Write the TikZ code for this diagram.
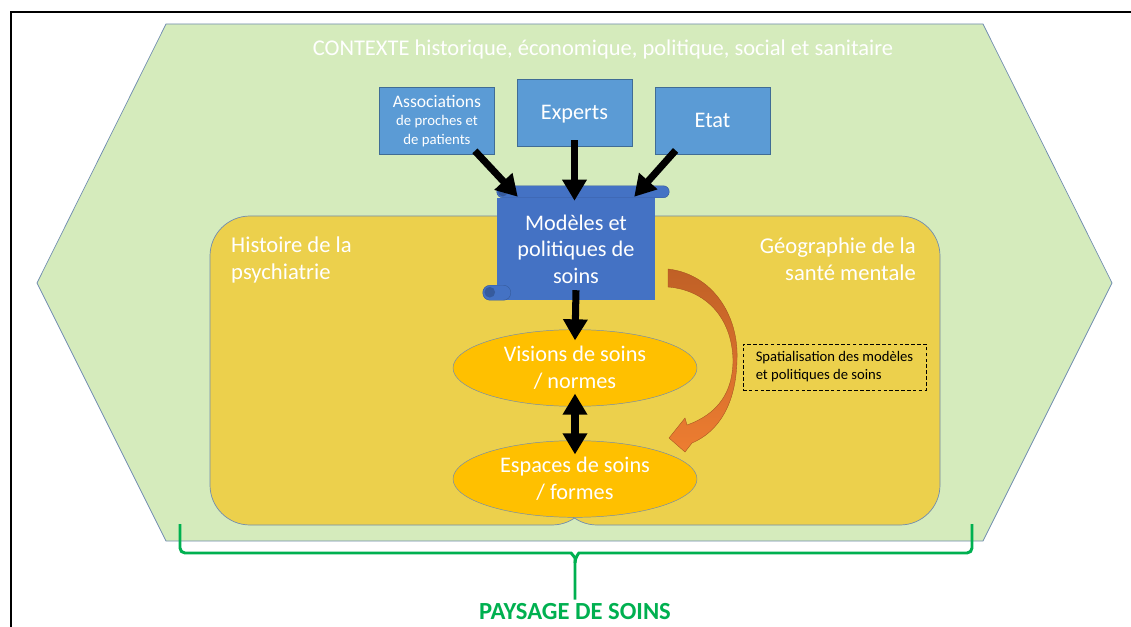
\documentclass[tikz,border=0pt]{standalone}
\usepackage{fontspec}
\setmainfont{Carlito}
\usetikzlibrary{shapes.geometric,arrows.meta,calc}

\definecolor{vertclair}{RGB}{213,235,188}
\definecolor{jaune}{RGB}{236,208,76}
\definecolor{bleu}{RGB}{91,155,213}
\definecolor{bleufonce}{RGB}{68,114,196}
\definecolor{orangef}{RGB}{255,192,0}
\definecolor{contour}{RGB}{112,140,176}
\definecolor{vertpaysage}{RGB}{0,176,80}
\definecolor{orangeh}{RGB}{192,96,38}
\definecolor{orangeb}{RGB}{237,125,49}

\tikzset{
  tete/.tip={Triangle[length=18pt,width=20pt]},
  fleche/.style={line width=6pt,-tete},
  acteur/.style={draw=bleu!70!black,fill=bleu,text=white,minimum width=34.6mm,
    minimum height=20.2mm,inner sep=0pt,align=center,font=\fontsize{19}{23}\selectfont},
  vision/.style={ellipse,draw=contour,fill=orangef,text=white,minimum width=73.2mm,
    minimum height=23mm,inner sep=0pt,align=center,font=\fontsize{19}{23}\selectfont},
  titre/.style={text=white,inner sep=0pt,font=\fontsize{19.3}{23}\selectfont},
  accolade/.style={vertpaysage,line width=2.5pt,rounded corners=1.5mm}
}

\begin{document}
\begin{tikzpicture}[x=0.3mm,y=-0.3mm]
\useasboundingbox (0,0) rectangle (1131,627);

\draw[line width=1.7pt] (11,640) -- (11,12) -- (1140,12);

% contexte
\draw[contour,fill=vertclair,line width=0.6pt]
  (37,283) -- (166,24) -- (983,24) -- (1112,283) -- (983,541) -- (166,541) -- cycle;
\node[text=white,font=\fontsize{19.2}{21}\selectfont] (contexte) at (603,50)
  {CONTEXTE historique, économique, politique, social et sanitaire};

% histoire et geographie
\foreach \a/\b in {210/592,557/940}
  \draw[contour,fill=jaune,line width=0.6pt,rounded corners=12mm] (\a,216) rectangle (\b,525);
\fill[jaune] (555.5,218) rectangle (593.5,514);
\node[titre,anchor=north west,align=left] (histoire) at (231,237) {Histoire de la\\psychiatrie};
\node[titre,anchor=north east,align=right] (geo) at (916,238) {Géographie de la\\santé mentale};

% acteurs
\node[acteur,font=\fontsize{12.6}{15.5}\selectfont] (assoc) at (437,121)
  {{\fontsize{15}{15.5}\selectfont Associations}\\de proches et\\de patients};
\node[acteur,text depth=0pt] (experts) at (574.5,112.5) {Experts};
\node[acteur] (etat) at (712.5,120.5) {Etat};

% parchemin
\node[fill=bleufonce,text=white,minimum width=47.4mm,minimum height=30.6mm,inner sep=0pt,
  align=center,font=\fontsize{19}{22.5}\selectfont] (modeles) at (576,249)
  {Modèles et\\politiques de\\soins};
\draw[fill=bleufonce,draw=bleufonce!80!black,line width=0.4pt,rounded corners=1.8mm]
  ($(modeles.north west)+(0,-12)$) rectangle ($(modeles.north east)+(14,0)$);
\fill[bleufonce!80!black] ($(modeles.north west)+(6,-6)$) circle (1.4mm);
\draw[fill=bleufonce,draw=bleufonce!80!black,line width=0.4pt,rounded corners=2.2mm]
  ($(modeles.south west)+(-14,-15)$) rectangle ($(modeles.south west)+(14,0)$);
\fill[bleufonce!80!black] ($(modeles.south west)+(-7,-8)$) circle (1.6mm);

% visions et espaces
\node[vision] (visions) at (575,368) {Visions de soins\\/ normes};
\node[vision] (espaces) at (575,479) {Espaces de soins\\/ formes};

\draw[fleche] ($(assoc.south east)+(-20,-4)$) -- ($(modeles.north west)+(21,-1)$);
\draw[fleche] ($(experts.south)+(0,-6)$) -- ($(experts.south |- modeles.north)+(0,3)$);
\draw[fleche] ($(etat.south west)+(21,-4)$) -- ($(modeles.north east)+(-21,-1)$);
\draw[fleche] ($(modeles.south)+(0,-10)$) -- ($(visions.north)+(0,11)$);
\draw[fleche,tete-tete] ($(visions.south)+(0,-13)$) -- ($(espaces.north)+(0,14)$);

% spatialisation
\shade[top color=orangeh,bottom color=orangeb,draw=orangeh!85!black,line width=0.3pt]
  (668,269) .. controls (712,274) and (739,315) .. (737,360)
  .. controls (736,405) and (718,432) .. (692,443)
  -- (685,452) -- (669,438) -- (685,418) -- (687,425)
  .. controls (718,414) and (733,392) .. (733,360)
  .. controls (732,318) and (706,290) .. (668,287) -- cycle;
\node[draw,dash pattern=on 3pt off 2pt,line width=0.8pt,minimum width=54.9mm,minimum height=13.8mm,
  align=left,inner sep=0pt,font=\fontsize{12.5}{15.4}\selectfont] (spatial) at (834.5,367)
  {Spatialisation des modèles\\et politiques de soins};

% paysage
\node[text=vertpaysage,font=\bfseries\fontsize{21}{24}\selectfont] (paysage) at (575,612) {PAYSAGE DE SOINS};
\draw[accolade] (180,524) -- (180,553) -- (566,553) to[out=0,in=90] (575,563) -- (paysage.north);
\draw[accolade] (972,524) -- (972,553) -- (584,553) to[out=180,in=90] (575,563);

\end{tikzpicture}
\end{document}
